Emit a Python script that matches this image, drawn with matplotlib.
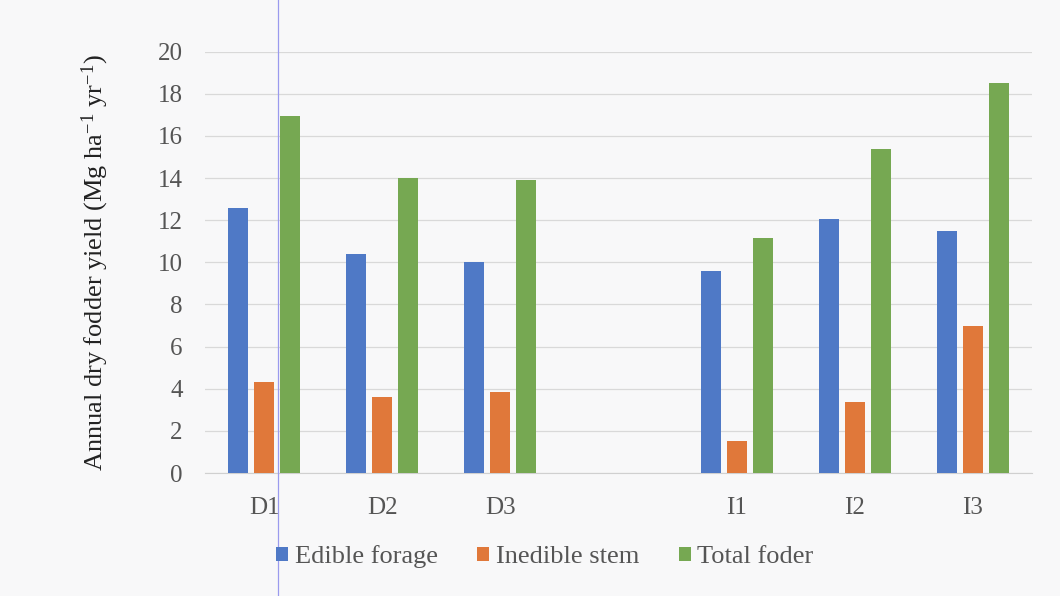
import matplotlib
matplotlib.use('Agg')
import matplotlib.pyplot as plt
import numpy as np
from matplotlib.lines import Line2D

categories = ['D1', 'D2', 'D3', '', 'I1', 'I2', 'I3']
edible = [12.6, 10.4, 10.0, np.nan, 9.6, 12.05, 11.5]
inedible = [4.3, 3.6, 3.85, np.nan, 1.5, 3.35, 7.0]
total = [16.95, 14.0, 13.9, np.nan, 11.15, 15.4, 18.5]
series_names = ['Edible forage', 'Inedible stem', 'Total foder']
colors = ['#4f79c6', '#e0783a', '#76a852']

plt.rcParams['font.family'] = 'Liberation Serif'
plt.rcParams['mathtext.fontset'] = 'custom'
plt.rcParams['mathtext.rm'] = 'Liberation Serif'
plt.rcParams['mathtext.it'] = 'Liberation Serif:italic'

bg = '#f8f8f9'
text_col = '#555555'

fig = plt.figure(figsize=(10.6, 5.96), dpi=100, facecolor=bg)
ax = fig.add_axes([205/1060, 1 - 473/596, (1032 - 205)/1060, (473 - 51.7)/596])
ax.set_facecolor(bg)

x = np.arange(len(categories))
step = 0.22
width = 0.17
for i, (vals, name, c) in enumerate(zip([edible, inedible, total], series_names, colors)):
    ax.bar(x + (i - 1) * step, vals, width, color=c, label=name, zorder=3)

ax.set_xlim(-0.5, len(categories) - 0.5)
ax.set_ylim(0, 20)
ax.set_yticks(np.arange(0, 21, 2))
ax.set_xticks(x)
ax.set_xticklabels(categories)
ax.grid(axis='y', color='#d9d9d9', linewidth=0.9, zorder=0)
for s in ['top', 'right', 'left']:
    ax.spines[s].set_visible(False)
ax.spines['bottom'].set_color('#d0d0d0')
ax.tick_params(axis='both', length=0, labelsize=18, labelcolor=text_col)
ax.tick_params(axis='y', pad=16)
ax.tick_params(axis='x', pad=17)

ax.set_ylabel('Annual dry fodder yield (Mg ha$^{\\mathrm{-1}}$ yr$^{\\mathrm{-1}}$)',
              fontsize=19, color='#222222', labelpad=34)

leg = fig.legend(loc='center', bbox_to_anchor=(545/1060, 1 - 557/596), ncol=3,
                 frameon=False, fontsize=19, handlelength=0.45, handleheight=0.45,
                 handletextpad=0.25, columnspacing=1.5)
for t in leg.get_texts():
    t.set_color(text_col)

# thin vertical scan line seen in the reference
fig.add_artist(Line2D([278/1060, 278/1060], [0, 1], color='#9a9aee', linewidth=0.9,
                      transform=fig.transFigure))

fig.savefig('out.png', dpi=100, facecolor=bg)
